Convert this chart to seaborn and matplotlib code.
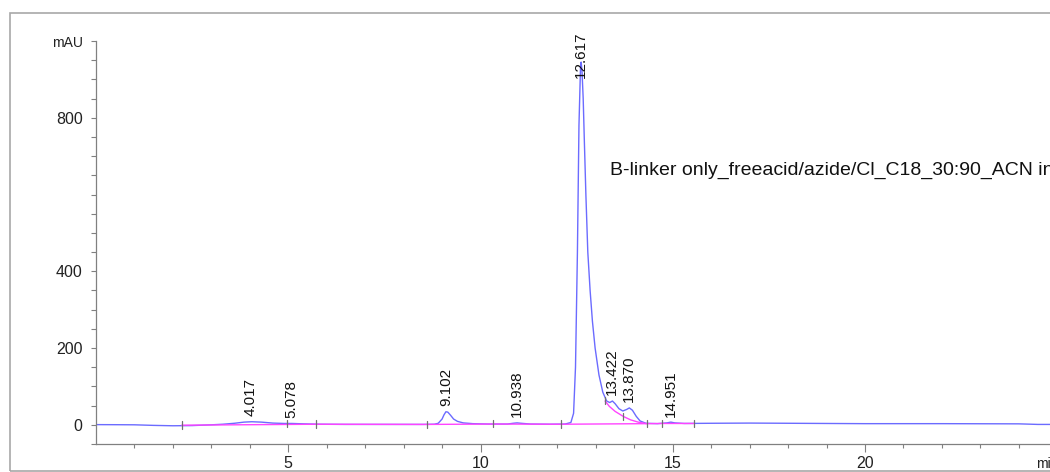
import numpy as np
import pandas as pd
import matplotlib
matplotlib.use("Agg")
import matplotlib.pyplot as plt
from matplotlib.patches import Rectangle
import seaborn as sns

# ---- data ----
time_min = [0.0, 0.5, 1.0, 1.5, 2.0, 2.5, 3.0, 3.3, 3.6, 3.85, 4.05, 4.3, 4.6, 4.9,
            5.1, 5.4, 5.8, 6.5, 7.5, 8.5, 8.8, 8.9, 9.0, 9.05, 9.1, 9.15, 9.22, 9.3,
            9.4, 9.55, 9.8, 10.2, 10.7, 10.85, 10.95, 11.05, 11.3, 11.8, 12.2, 12.35,
            12.42, 12.47, 12.52, 12.56, 12.6, 12.617, 12.64, 12.67, 12.7, 12.74, 12.79,
            12.85, 12.91, 12.98, 13.08, 13.18, 13.28, 13.36, 13.43, 13.5, 13.6, 13.7,
            13.8, 13.87, 13.95, 14.05, 14.15, 14.3, 14.6, 14.85, 14.95, 15.05, 15.3,
            16.0, 17.0, 18.0, 19.0, 20.0, 22.0, 24.0, 24.5, 24.81]
signal_mau = [0.5, 0.3, 0.0, -1.5, -2.5, -2.0, 0.0, 1.5, 4.0, 7.0, 8.0, 7.0, 4.5, 3.5,
              3.5, 2.5, 1.5, 1.0, 1.0, 1.0, 1.5, 4.0, 15.0, 26.0, 34.0, 33.0, 25.0, 15.0,
              9.0, 5.0, 3.0, 2.0, 2.0, 4.0, 5.0, 4.0, 2.0, 1.5, 2.0, 6.0,
              30.0, 150.0, 450.0, 780.0, 930.0, 945.0, 920.0, 850.0, 740.0, 600.0, 450.0,
              350.0, 270.0, 200.0, 130.0, 85.0, 62.0, 58.0, 62.0, 55.0, 42.0, 36.0,
              40.0, 44.0, 38.0, 22.0, 10.0, 4.0, 3.0, 5.0, 7.0, 5.0, 3.5,
              4.0, 4.5, 4.0, 3.5, 3.0, 3.0, 2.5, 1.0, 1.0]

baseline_t = [2.23, 5.72, 8.62, 10.33, 12.1, 14.32, 14.73, 15.55]
baseline_v = [-1.0, 1.5, 1.0, 2.0, 1.5, 3.0, 3.5, 3.5]

skim_t = [13.24, 13.35, 13.5, 13.71, 13.9, 14.1, 14.32]
skim_v = [62.0, 48.0, 35.0, 22.0, 13.0, 7.0, 3.0]

drop_t = [2.23, 4.97, 5.72, 8.62, 10.33, 12.1, 13.24, 13.71, 14.32, 14.73, 15.55]
drop_v = [-1.0, 3.0, 1.5, 1.0, 2.0, 1.5, 62.0, 21.0, 3.0, 3.5, 3.5]

peak_labels = ["4.017", "5.078", "9.102", "10.938", "12.617", "13.422", "13.870", "14.951"]
peak_rt = [4.017, 5.078, 9.102, 10.938, 12.617, 13.422, 13.870, 14.951]
peak_top = [8.0, 3.5, 34.0, 5.0, 890.0, 62.0, 44.0, 7.0]

y_ticks = [0, 200, 400, 800, 1000]
y_ticklabels = ["0", "200", "400", "800", "mAU"]
x_ticks = [5, 10, 15, 20]
x_ticklabels = ["5", "10", "15", "20"]
sample_name = "B-linker only_freeacid/azide/Cl_C18_30:90_ACN in"

# ---- style ----
sns.set_theme(style="white")
plt.rcParams['font.family'] = ['Liberation Sans', 'DejaVu Sans']

fig = plt.figure(figsize=(10.5, 4.72), dpi=100)
ax = fig.add_axes([96/1050, 1 - 444/472, 1 - 96/1050, (444 - 41)/472])

trace = pd.DataFrame({"t": time_min, "mAU": signal_mau})
sns.lineplot(data=trace, x="t", y="mAU", ax=ax, color="#6b6bff", lw=1.0, sort=False,
             estimator=None)
sns.lineplot(x=baseline_t, y=baseline_v, ax=ax, color="#ff44ff", lw=1.0, sort=False,
             estimator=None)
sns.lineplot(x=skim_t, y=skim_v, ax=ax, color="#ff44ff", lw=1.0, sort=False,
             estimator=None)

for t, v in zip(drop_t, drop_v):
    ax.plot([t, t], [v - 9, v + 10], color="#707070", lw=0.9)

for lab, t, v in zip(peak_labels, peak_rt, peak_top):
    ax.annotate(lab, xy=(t, v), xytext=(0, 4), textcoords="offset points",
                rotation=90, ha="center", va="bottom", fontsize=11, color="#111111")

ax.text(13.37, 662, sample_name, fontsize=14, color="#111111", va="center",
        ha="left", clip_on=False)

ax.set_xlim(0, 24.81)
ax.set_ylim(-50, 1000)
ax.set_xlabel("")
ax.set_ylabel("")

ax.set_yticks(y_ticks)
ax.set_yticklabels(y_ticklabels)
ax.set_yticks(np.arange(-50, 1001, 50), minor=True)
ax.set_xticks(x_ticks)
ax.set_xticklabels(x_ticklabels)
ax.set_xticks(np.arange(1, 25, 1), minor=True)

for lbl in ax.get_yticklabels():
    if lbl.get_text() == "mAU":
        lbl.set_fontsize(10)
    else:
        lbl.set_fontsize(11.5)
for lbl in ax.get_xticklabels():
    lbl.set_fontsize(11.5)

ax.tick_params(axis="y", which="both", direction="out", length=3.6, width=0.8,
               color="#808080", left=True, pad=6, labelcolor="#222222")
ax.tick_params(axis="x", which="major", direction="out", length=5.8, width=0.8,
               color="#808080", bottom=True, pad=2.5, labelcolor="#222222")
ax.tick_params(axis="x", which="minor", direction="out", length=3.0, width=0.8,
               color="#808080", bottom=True)

for s in ["top", "right"]:
    ax.spines[s].set_visible(False)
for s in ["left", "bottom"]:
    ax.spines[s].set_color("#808080")
    ax.spines[s].set_linewidth(0.9)

ax.annotate("min", xy=(24.45, 0), xycoords=("data", "axes fraction"),
            xytext=(0, -9.5), textcoords="offset points", ha="left", va="top",
            fontsize=10, color="#222222", annotation_clip=False)

fig.patches.append(Rectangle((10/1050, 1 - 470.5/472), 1.2, (470.5 - 12.5)/472,
                             transform=fig.transFigure, fill=False,
                             edgecolor="#a8a8a8", lw=1.2))

fig.savefig("out.png", dpi=100)
